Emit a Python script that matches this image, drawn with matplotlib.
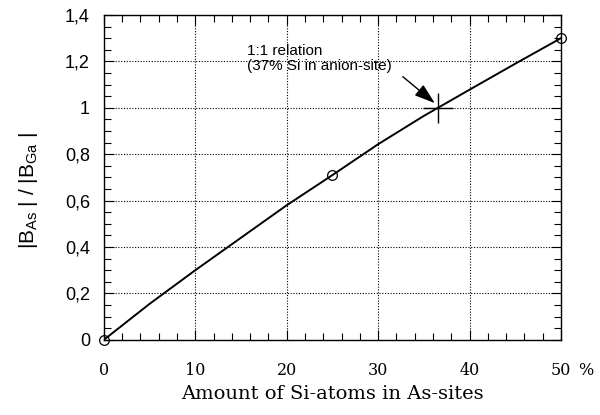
import matplotlib.pyplot as plt
from matplotlib.ticker import MultipleLocator
import matplotlib.transforms as mtransforms

# curve
si_percent = [0, 5, 10, 15, 20, 25, 30, 35, 40, 45, 50]
ratio = [0, 0.155, 0.30, 0.44, 0.58, 0.71, 0.843, 0.965, 1.078, 1.19, 1.30]

# calculated points (circles)
calc_x = [0, 25, 50]
calc_y = [0, 0.71, 1.30]

# 1:1 crossing
cross_x = [36.6]
cross_y = [1.0]

x_ticks = [0, 10, 20, 30, 40, 50]
y_ticks = [0, 0.2, 0.4, 0.6, 0.8, 1.0, 1.2, 1.4]
y_labels = ['0', '0,2', '0,4', '0,6', '0,8', '1', '1,2', '1,4']

plt.rcParams['mathtext.default'] = 'regular'
plt.rcParams['mathtext.fontset'] = 'custom'
plt.rcParams['mathtext.rm'] = 'Liberation Sans'
sans = 'Liberation Sans'
serif = 'DejaVu Serif'

fig = plt.figure(figsize=(6, 4.15), dpi=100)
ax = fig.add_axes([0.173, 0.181, 0.762, 0.783])

ax.plot(si_percent, ratio, color='black', lw=1.4, zorder=3)
ax.plot(calc_x, calc_y, 'o', mfc='none', mec='black', ms=7, mew=0.9,
        clip_on=False, zorder=4)
ax.plot(cross_x, cross_y, '+', color='black', ms=22, mew=1.0, zorder=4)

ax.set_xlim(0, 50)
ax.set_ylim(0, 1.4)
ax.set_xticks(x_ticks)
ax.set_xticklabels([str(v) for v in x_ticks], family=serif, fontsize=11.5)
ax.set_yticks(y_ticks)
ax.set_yticklabels(y_labels, family=sans, fontsize=13)
ax.xaxis.set_minor_locator(MultipleLocator(2))
ax.yaxis.set_minor_locator(MultipleLocator(0.05))
ax.tick_params(which='both', direction='in', top=True, right=True, width=0.8)
ax.tick_params(which='major', length=7)
ax.tick_params(which='minor', length=5)
ax.tick_params(axis='x', which='major', pad=16)
ax.tick_params(axis='y', which='major', pad=10)
ax.grid(True, which='major', ls=(0, (1, 1.5)), color='black', lw=0.8)
for s in ax.spines.values():
    s.set_linewidth(1.0)

# percent sign after the last tick label
trans = mtransforms.blended_transform_factory(ax.transData, ax.transAxes)
ax.text(51.9, -0.094, '%', transform=trans, family=serif, fontsize=11.5,
        ha='left', va='center')

ax.set_xlabel('Amount of Si-atoms in As-sites', family=serif, fontsize=14,
              labelpad=4)
ax.set_ylabel('|B$_{As}$ | / |B$_{Ga}$ |', family=sans, fontsize=15)
ax.yaxis.set_label_coords(-0.14, 0.46)

ax.text(15.65, 1.211, '1:1 relation\n(37% Si in anion-site)', family=sans,
        fontsize=11, va='center', ha='left', linespacing=1.08)
ax.annotate('', xy=(36.2, 1.02), xytext=(32.7, 1.134),
            arrowprops=dict(arrowstyle='-|>,head_length=1.15,head_width=0.38',
                            color='black', lw=1.0, shrinkA=0, shrinkB=0,
                            mutation_scale=11))

fig.savefig('out.png', dpi=100)
